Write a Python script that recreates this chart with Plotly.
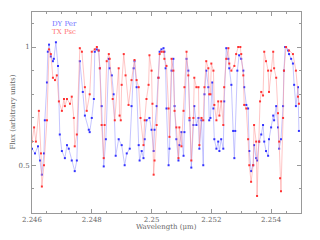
import plotly.graph_objects as go

dy_wl = [2.24600,2.24610,2.24620,2.24627,2.24633,2.24640,2.24643,2.24650,2.24653,2.24657,
         2.24663,2.24670,2.24673,2.24680,2.24687,2.24693,2.24700,2.24710,2.24717,2.24723,
         2.24733,2.24743,2.24750,2.24760,2.24770,2.24777,2.24790,2.24793,2.24800,2.24807,
         2.24810,2.24817,2.24823,2.24827,2.24833,2.24840,2.24847,2.24857,2.24860,2.24867,
         2.24873,2.24880,2.24890,2.24900,2.24910,2.24917,2.24927,2.24933,2.24940,2.24943,
         2.24950,2.24957,2.24960,2.24967,2.24973,2.24977,2.24983,2.24993,2.25000,2.25007,
         2.25010,2.25017,2.25023,2.25027,2.25033,2.25040,2.25043,2.25047,2.25050,2.25057,
         2.25060,2.25067,2.25073,2.25077,2.25083,2.25090,2.25093,2.25100,2.25107,2.25110,
         2.25117,2.25123,2.25127,2.25133,2.25140,2.25143,2.25150,2.25157,2.25160,2.25167,
         2.25173,2.25177,2.25183,2.25190,2.25193,2.25197,2.25203,2.25207,2.25210,2.25217,
         2.25223,2.25227,2.25233,2.25240,2.25243,2.25250,2.25257,2.25260,2.25267,2.25273,
         2.25277,2.25280,2.25287,2.25293,2.25300,2.25307,2.25310,2.25317,2.25323,2.25327,
         2.25333,2.25340,2.25343,2.25350,2.25353,2.25360,2.25367,2.25373,2.25377,2.25383,
         2.25390,2.25393,2.25400,2.25407,2.25410,2.25417,2.25423,2.25427,2.25433,2.25440,
         2.25443,2.25447,2.25457,2.25460,2.25467,2.25473,2.25477,2.25483,2.25490,2.25493]
dy_flux = [0.57,0.55,0.58,0.52,0.46,0.55,0.69,0.85,0.98,1.01,
           0.96,0.94,0.95,1.02,0.92,0.63,0.56,0.53,0.585,0.57,
           0.52,0.475,0.52,0.94,0.81,0.71,0.65,0.64,0.70,0.78,
           0.98,0.99,0.985,0.91,0.75,0.495,0.61,0.95,0.91,0.88,
           0.80,0.54,0.61,0.585,0.50,0.55,0.57,0.75,0.91,0.94,
           0.83,0.585,0.52,0.56,0.53,0.61,0.69,0.70,0.65,0.56,
           0.65,0.75,0.87,0.98,0.99,0.995,0.98,0.91,0.74,0.50,
           0.57,0.90,0.95,0.75,0.61,0.52,0.585,0.64,0.54,0.64,
           0.95,0.90,0.69,0.49,0.67,0.75,0.67,0.70,0.57,0.69,
           0.50,0.80,0.90,0.83,0.69,0.70,0.85,0.74,0.61,0.57,
           0.60,0.56,0.61,0.57,0.77,0.995,0.95,0.91,0.84,0.645,
           0.53,0.645,0.90,0.965,0.95,0.90,0.83,0.755,0.74,0.56,
           0.475,0.50,0.585,0.53,0.52,0.60,0.63,0.67,0.60,0.56,
           0.54,0.61,0.66,0.71,0.69,0.75,0.66,0.57,0.61,0.75,
           0.90,1.00,0.985,0.97,0.95,0.93,0.84,0.75,0.83,0.645]

tx_wl = [2.24600,2.24607,2.24613,2.24623,2.24630,2.24633,2.24640,2.24650,2.24657,2.24663,
         2.24670,2.24677,2.24683,2.24690,2.24700,2.24707,2.24710,2.24717,2.24727,2.24733,
         2.24740,2.24743,2.24750,2.24760,2.24767,2.24777,2.24783,2.24793,2.24800,2.24810,
         2.24817,2.24823,2.24827,2.24833,2.24840,2.24843,2.24850,2.24857,2.24860,2.24870,
         2.24877,2.24890,2.24893,2.24897,2.24900,2.24907,2.24913,2.24923,2.24933,2.24943,
         2.24950,2.24957,2.24963,2.24973,2.24977,2.24983,2.24990,2.24993,2.25000,2.25003,
         2.25007,2.25010,2.25017,2.25023,2.25027,2.25033,2.25040,2.25043,2.25050,2.25057,
         2.25060,2.25067,2.25073,2.25077,2.25083,2.25090,2.25093,2.25100,2.25107,2.25110,
         2.25117,2.25123,2.25127,2.25133,2.25140,2.25143,2.25150,2.25157,2.25160,2.25167,
         2.25173,2.25177,2.25183,2.25190,2.25193,2.25197,2.25200,2.25207,2.25210,2.25217,
         2.25223,2.25227,2.25233,2.25240,2.25243,2.25250,2.25257,2.25260,2.25267,2.25277,
         2.25283,2.25290,2.25297,2.25300,2.25307,2.25310,2.25317,2.25323,2.25327,2.25333,
         2.25340,2.25343,2.25350,2.25353,2.25360,2.25363,2.25367,2.25373,2.25377,2.25383,
         2.25390,2.25393,2.25400,2.25407,2.25410,2.25417,2.25423,2.25427,2.25430,2.25433,
         2.25440,2.25443,2.25450,2.25460,2.25473,2.25483,2.25490,2.25493]
tx_flux = [0.60,0.66,0.60,0.73,0.55,0.41,0.50,0.69,0.99,0.97,
           0.87,0.86,0.88,0.77,0.73,0.78,0.75,0.78,0.76,0.79,
           0.70,0.58,0.63,0.995,0.98,0.83,0.73,0.80,0.98,0.99,
           1.00,0.985,0.91,0.67,0.53,0.67,0.94,0.97,0.95,0.78,
           0.69,0.91,0.71,0.69,0.84,0.97,0.88,0.755,0.86,0.945,
           0.86,0.83,0.70,0.585,0.69,0.78,0.84,0.965,0.90,0.76,
           0.46,0.52,0.67,0.87,0.97,0.98,0.98,0.95,0.92,0.74,
           0.62,0.95,0.90,0.73,0.66,0.53,0.66,0.58,0.73,0.83,
           0.98,0.88,0.70,0.52,0.70,0.87,0.83,0.83,0.585,0.70,
           0.69,0.83,0.94,0.91,0.80,0.80,0.93,0.90,0.755,0.69,
           0.77,0.71,0.77,0.67,0.83,0.95,0.995,0.93,0.90,0.92,
           0.97,1.00,1.00,0.97,0.88,0.755,0.74,0.61,0.50,0.43,
           0.50,0.67,0.60,0.37,0.60,0.77,0.81,0.795,0.98,0.94,
           0.90,0.81,0.90,0.98,0.91,0.87,0.72,0.60,0.445,0.39,
           0.70,0.90,1.00,0.985,0.97,0.90,0.79,0.76]

assert len(dy_wl) == len(dy_flux), (len(dy_wl), len(dy_flux))
assert len(tx_wl) == len(tx_flux), (len(tx_wl), len(tx_flux))

x_ticks = [2.246, 2.248, 2.25, 2.252, 2.254]
x_labels = ["2.246", "2.248", "2.25", "2.252", "2.254"]
y_ticks = [0.5, 1.0]
y_labels = ["0.5", "1"]

FONT = "DejaVu Serif"
TXT = "#666666"
AX = "#999999"

fig = go.Figure()
fig.add_trace(go.Scatter(x=dy_wl, y=dy_flux, mode="lines+markers", name="DY Per",
                         line=dict(color="rgba(140,140,255,0.5)", width=1),
                         marker=dict(color="#3333ff", size=2, symbol="square")))
fig.add_trace(go.Scatter(x=tx_wl, y=tx_flux, mode="lines+markers", name="TX Psc",
                         line=dict(color="rgba(255,140,140,0.5)", width=1),
                         marker=dict(color="#ff3333", size=2, symbol="square")))

axis_common = dict(showgrid=False, zeroline=False, showline=True, linecolor=AX, linewidth=1,
                   mirror="ticks", ticks="inside", tickcolor=AX, ticklen=4,
                   tickfont=dict(family=FONT, size=7, color=TXT))
fig.update_xaxes(range=[2.246, 2.255], tickvals=x_ticks, ticktext=x_labels,
                 minor=dict(dtick=0.0005, ticks="inside", ticklen=2, tickcolor=AX, tick0=2.246),
                 **axis_common)
fig.update_yaxes(range=[0.298, 1.148], tickvals=y_ticks, ticktext=y_labels,
                 minor=dict(dtick=0.1, ticks="inside", ticklen=2, tickcolor=AX, tick0=0.0),
                 **axis_common)

# the page body adds an 8px offset, so margins are shifted to keep the plot area in place
fig.update_layout(
    width=320, height=240, margin=dict(l=24, r=27, t=4, b=35),
    paper_bgcolor="white", plot_bgcolor="white", showlegend=False,
    font=dict(family=FONT, size=7, color=TXT),
    annotations=[
        dict(text="DY Per", x=0.067, y=0.94, xref="paper", yref="paper", xanchor="left",
             yanchor="middle", showarrow=False, font=dict(family=FONT, size=7, color="#7070ff")),
        dict(text="TX Psc", x=0.067, y=0.90, xref="paper", yref="paper", xanchor="left",
             yanchor="middle", showarrow=False, font=dict(family=FONT, size=7, color="#ff7070")),
        dict(text="Wavelength (μm)", x=0.5, y=-0.07, xref="paper", yref="paper",
             xanchor="center", yanchor="middle", showarrow=False,
             font=dict(family=FONT, size=7, color=TXT)),
        dict(text="Flux (arbitrary units)", x=-0.074, y=0.5, xref="paper", yref="paper",
             xanchor="center", yanchor="middle", showarrow=False, textangle=-90,
             font=dict(family=FONT, size=7, color=TXT)),
    ],
)

fig.write_html("out.html")
